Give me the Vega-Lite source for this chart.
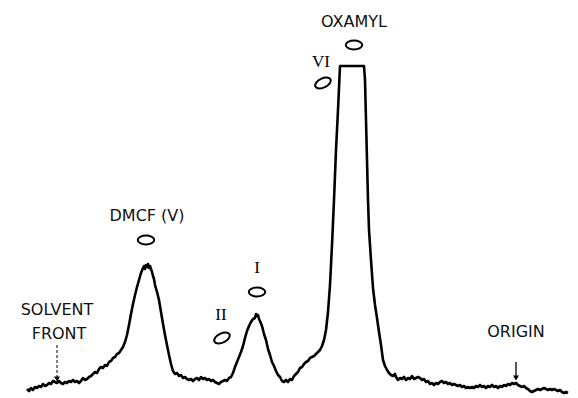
{
  "$schema": "https://vega.github.io/schema/vega-lite/v6.json",
  "width": 578,
  "height": 398,
  "padding": 0,
  "autosize": {"type": "fit", "contains": "padding"},
  "background": "white",
  "config": {"view": {"stroke": null}},
  "datasets": {
    "scan": [
      {"x":27,"y":389},{"x":29,"y":391},{"x":31,"y":388},{"x":33,"y":390},{"x":35,"y":387},{"x":37,"y":388},{"x":39,"y":386},{"x":41,"y":387},{"x":43,"y":384},{"x":45,"y":386},{"x":47,"y":385},{"x":49,"y":383},{"x":51,"y":384},{"x":53,"y":381},{"x":55,"y":382},{"x":57,"y":383},{"x":59,"y":381},{"x":61,"y":383},{"x":63,"y":384},{"x":65,"y":382},{"x":67,"y":383},{"x":69,"y":381},{"x":71,"y":382},{"x":73,"y":380},{"x":75,"y":382},{"x":77,"y":381},{"x":79,"y":383},{"x":81,"y":381},{"x":83,"y":378},{"x":85,"y":380},{"x":87,"y":379},{"x":89,"y":377},{"x":91,"y":376},{"x":93,"y":374},{"x":95,"y":372},{"x":97,"y":373},{"x":99,"y":369},{"x":101,"y":367},{"x":103,"y":368},{"x":105,"y":365},{"x":107,"y":366},{"x":109,"y":362},{"x":111,"y":361},{"x":113,"y":358},{"x":115,"y":357},{"x":117,"y":354},{"x":119,"y":353},{"x":121,"y":350},{"x":123,"y":347},{"x":125,"y":342},{"x":127,"y":335},{"x":129,"y":325},{"x":131,"y":314},{"x":133,"y":304},{"x":135,"y":295},{"x":137,"y":287},{"x":139,"y":280},{"x":141,"y":273},{"x":143,"y":268},{"x":144,"y":266},{"x":145,"y":269},{"x":146,"y":265},{"x":147,"y":267},{"x":148,"y":264},{"x":149,"y":268},{"x":150,"y":266},{"x":151,"y":269},{"x":152,"y":272},{"x":153,"y":276},{"x":154,"y":279},{"x":155,"y":285},{"x":157,"y":292},{"x":159,"y":300},{"x":161,"y":312},{"x":163,"y":324},{"x":165,"y":335},{"x":167,"y":345},{"x":169,"y":355},{"x":171,"y":364},{"x":173,"y":371},{"x":175,"y":374},{"x":177,"y":373},{"x":179,"y":376},{"x":181,"y":375},{"x":183,"y":378},{"x":185,"y":377},{"x":187,"y":379},{"x":189,"y":380},{"x":191,"y":379},{"x":193,"y":381},{"x":195,"y":379},{"x":197,"y":378},{"x":199,"y":380},{"x":201,"y":377},{"x":203,"y":379},{"x":205,"y":378},{"x":207,"y":380},{"x":209,"y":379},{"x":211,"y":381},{"x":213,"y":380},{"x":215,"y":382},{"x":217,"y":383},{"x":219,"y":384},{"x":221,"y":382},{"x":223,"y":381},{"x":225,"y":380},{"x":227,"y":381},{"x":229,"y":378},{"x":231,"y":377},{"x":233,"y":373},{"x":235,"y":367},{"x":237,"y":362},{"x":239,"y":357},{"x":241,"y":352},{"x":243,"y":346},{"x":245,"y":338},{"x":247,"y":331},{"x":249,"y":326},{"x":251,"y":322},{"x":253,"y":319},{"x":255,"y":318},{"x":256,"y":314},{"x":257,"y":316},{"x":258,"y":315},{"x":259,"y":319},{"x":260,"y":321},{"x":262,"y":326},{"x":264,"y":334},{"x":266,"y":340},{"x":268,"y":349},{"x":270,"y":355},{"x":272,"y":362},{"x":274,"y":366},{"x":276,"y":371},{"x":278,"y":375},{"x":280,"y":377},{"x":282,"y":381},{"x":284,"y":382},{"x":286,"y":380},{"x":288,"y":382},{"x":290,"y":379},{"x":292,"y":380},{"x":294,"y":376},{"x":296,"y":374},{"x":298,"y":372},{"x":300,"y":368},{"x":302,"y":367},{"x":304,"y":364},{"x":306,"y":362},{"x":308,"y":361},{"x":310,"y":358},{"x":312,"y":357},{"x":314,"y":356},{"x":316,"y":354},{"x":318,"y":352},{"x":320,"y":350},{"x":322,"y":346},{"x":324,"y":340},{"x":326,"y":330},{"x":328,"y":312},{"x":330,"y":285},{"x":332,"y":245},{"x":334,"y":200},{"x":336,"y":150},{"x":338,"y":110},{"x":340,"y":66},{"x":364,"y":66},{"x":365,"y":80},{"x":366,"y":120},{"x":367,"y":160},{"x":368,"y":200},{"x":369,"y":230},{"x":371,"y":260},{"x":373,"y":288},{"x":375,"y":305},{"x":377,"y":318},{"x":379,"y":332},{"x":381,"y":345},{"x":383,"y":360},{"x":385,"y":366},{"x":387,"y":370},{"x":389,"y":373},{"x":391,"y":375},{"x":393,"y":376},{"x":395,"y":374},{"x":396,"y":377},{"x":398,"y":380},{"x":400,"y":378},{"x":402,"y":379},{"x":404,"y":377},{"x":406,"y":380},{"x":408,"y":378},{"x":410,"y":379},{"x":412,"y":376},{"x":414,"y":379},{"x":416,"y":378},{"x":418,"y":377},{"x":420,"y":378},{"x":422,"y":380},{"x":424,"y":379},{"x":426,"y":382},{"x":428,"y":381},{"x":430,"y":384},{"x":432,"y":383},{"x":434,"y":385},{"x":436,"y":383},{"x":438,"y":384},{"x":440,"y":382},{"x":442,"y":381},{"x":444,"y":383},{"x":446,"y":382},{"x":448,"y":384},{"x":450,"y":383},{"x":452,"y":385},{"x":454,"y":384},{"x":456,"y":385},{"x":458,"y":386},{"x":460,"y":385},{"x":462,"y":387},{"x":464,"y":386},{"x":466,"y":388},{"x":468,"y":387},{"x":470,"y":388},{"x":472,"y":387},{"x":474,"y":388},{"x":476,"y":386},{"x":478,"y":387},{"x":480,"y":385},{"x":482,"y":387},{"x":484,"y":386},{"x":486,"y":388},{"x":488,"y":386},{"x":490,"y":387},{"x":492,"y":385},{"x":494,"y":387},{"x":496,"y":386},{"x":498,"y":388},{"x":500,"y":386},{"x":502,"y":387},{"x":504,"y":385},{"x":506,"y":386},{"x":508,"y":384},{"x":510,"y":385},{"x":512,"y":383},{"x":514,"y":384},{"x":516,"y":383},{"x":518,"y":385},{"x":520,"y":386},{"x":522,"y":387},{"x":524,"y":386},{"x":526,"y":388},{"x":528,"y":389},{"x":530,"y":391},{"x":532,"y":392},{"x":534,"y":391},{"x":536,"y":390},{"x":538,"y":389},{"x":540,"y":390},{"x":542,"y":389},{"x":544,"y":388},{"x":546,"y":389},{"x":548,"y":390},{"x":550,"y":389},{"x":552,"y":390},{"x":554,"y":389},{"x":556,"y":390},{"x":558,"y":391},{"x":560,"y":390},{"x":562,"y":392},{"x":564,"y":393},{"x":566,"y":392},{"x":568,"y":393}
    ],
    "sansLabels": [
      {"x":354,"y":22,"label":"OXAMYL"},
      {"x":147,"y":216,"label":"DMCF (V)"},
      {"x":57,"y":310,"label":"SOLVENT"},
      {"x":59,"y":334,"label":"FRONT"},
      {"x":516,"y":332,"label":"ORIGIN"}
    ],
    "serifLabels": [
      {"x":257,"y":268,"label":"I"},
      {"x":221,"y":315,"label":"II"},
      {"x":321,"y":62,"label":"VI"}
    ],
    "flatSpots": [
      {"x":354,"y":45,"spot":"OXAMYL"},
      {"x":146,"y":240,"spot":"DMCF"},
      {"x":257,"y":292,"spot":"I"}
    ],
    "tiltSpots": [
      {"x":222,"y":338,"spot":"II"},
      {"x":323,"y":83,"spot":"VI"}
    ],
    "dashArrow": [{"x":57,"y":345,"y2":377}],
    "solidArrow": [{"x":516,"y":362,"y2":376}],
    "heads": [{"x":57,"y":379},{"x":516,"y":378}]
  },
  "resolve": {"scale": {"x": "shared", "y": "shared"}},
  "layer": [
    {
      "data": {"name": "scan"},
      "mark": {"type": "line", "color": "#000000", "strokeWidth": 2.6, "strokeJoin": "round"},
      "encoding": {
        "x": {"field": "x", "type": "quantitative", "scale": {"domain": [0, 578], "nice": false, "zero": false}, "axis": null},
        "y": {"field": "y", "type": "quantitative", "scale": {"domain": [0, 398], "nice": false, "zero": false, "reverse": true}, "axis": null}
      }
    },
    {
      "data": {"name": "sansLabels"},
      "mark": {"type": "text", "font": "DejaVu Sans", "fontSize": 16, "color": "#111111", "align": "center", "baseline": "middle"},
      "encoding": {
        "x": {"field": "x", "type": "quantitative"},
        "y": {"field": "y", "type": "quantitative"},
        "text": {"field": "label"}
      }
    },
    {
      "data": {"name": "serifLabels"},
      "mark": {"type": "text", "font": "Liberation Serif", "fontSize": 17, "color": "#000000", "align": "center", "baseline": "middle"},
      "encoding": {
        "x": {"field": "x", "type": "quantitative"},
        "y": {"field": "y", "type": "quantitative"},
        "text": {"field": "label"}
      }
    },
    {
      "data": {"name": "flatSpots"},
      "mark": {"type": "point", "shape": "M -1 0 A 1 0.55 0 1 1 1 0 A 1 0.55 0 1 1 -1 0 Z", "size": 270, "filled": false, "stroke": "#000000", "strokeWidth": 2, "opacity": 1},
      "encoding": {
        "x": {"field": "x", "type": "quantitative"},
        "y": {"field": "y", "type": "quantitative"}
      }
    },
    {
      "data": {"name": "tiltSpots"},
      "mark": {"type": "point", "shape": "M -1 0 A 1 0.55 0 1 1 1 0 A 1 0.55 0 1 1 -1 0 Z", "size": 280, "angle": -25, "filled": false, "stroke": "#000000", "strokeWidth": 2, "opacity": 1},
      "encoding": {
        "x": {"field": "x", "type": "quantitative"},
        "y": {"field": "y", "type": "quantitative"}
      }
    },
    {
      "data": {"name": "dashArrow"},
      "mark": {"type": "rule", "color": "#000000", "strokeWidth": 1, "strokeDash": [3, 2]},
      "encoding": {
        "x": {"field": "x", "type": "quantitative"},
        "y": {"field": "y", "type": "quantitative"},
        "y2": {"field": "y2"}
      }
    },
    {
      "data": {"name": "solidArrow"},
      "mark": {"type": "rule", "color": "#000000", "strokeWidth": 1.3},
      "encoding": {
        "x": {"field": "x", "type": "quantitative"},
        "y": {"field": "y", "type": "quantitative"},
        "y2": {"field": "y2"}
      }
    },
    {
      "data": {"name": "heads"},
      "mark": {"type": "point", "shape": "triangle-down", "size": 35, "filled": true, "color": "#000000", "opacity": 1},
      "encoding": {
        "x": {"field": "x", "type": "quantitative"},
        "y": {"field": "y", "type": "quantitative"}
      }
    }
  ]
}
